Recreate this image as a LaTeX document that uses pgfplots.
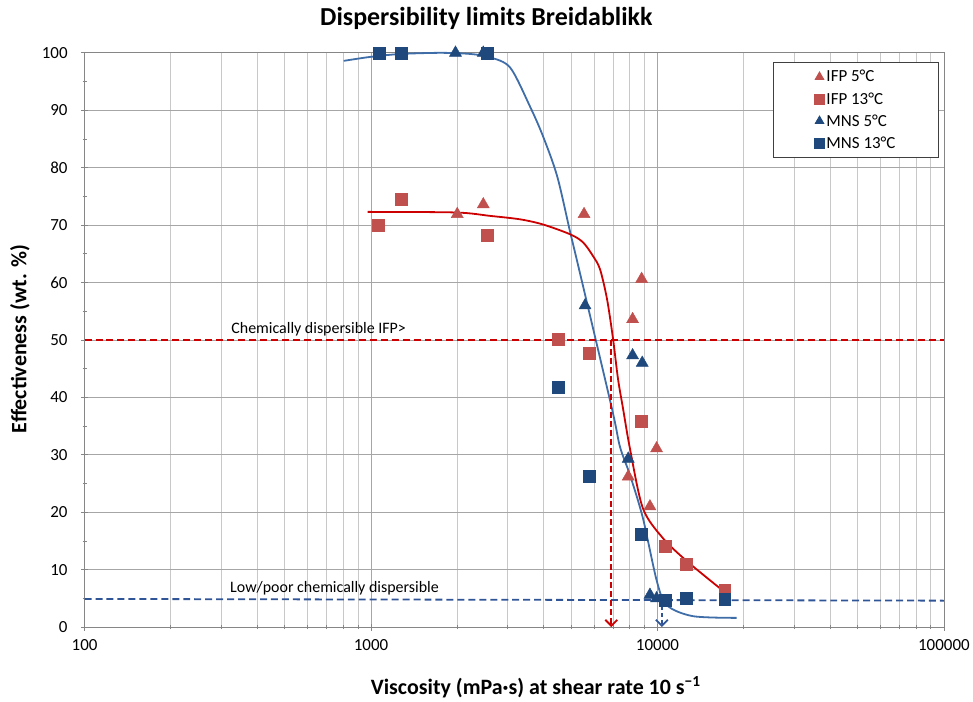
\documentclass[border=0pt]{standalone}
\usepackage{fontspec}
\setmainfont{Carlito}
\usepackage{pgfplots}
\pgfplotsset{compat=1.18}
\usetikzlibrary{arrows.meta}
\definecolor{ifp}{HTML}{C0504D}
\definecolor{mns}{HTML}{1F497D}
\definecolor{redline}{HTML}{CC0000}
\definecolor{blueline}{HTML}{3F6DA8}
\definecolor{bluedash}{HTML}{2F5597}
\definecolor{gridmaj}{HTML}{A6A6A6}
\definecolor{gridmin}{HTML}{C8C8C8}
\definecolor{axc}{HTML}{868686}
\begin{document}
\begin{tikzpicture}
\begin{axis}[
  scale only axis, width=862pt, height=576pt,
  xmode=log, xmin=100, xmax=100000, ymin=0, ymax=100,
  log ticks with fixed point,
  /pgf/number format/1000 sep={},
  /pgf/number format/assume math mode=true,
  ytick={0,10,...,100},
  minor y tick num=1,
  xmajorgrids, xminorgrids, ymajorgrids,
  major grid style={gridmaj, line width=0.8pt},
  minor grid style={gridmin, line width=0.8pt},
  axis line style={axc, line width=0.8pt},
  tick style={axc, line width=0.8pt},
  tick align=center,
  major tick length=7pt, minor tick length=4pt,
  xtick pos=bottom, ytick pos=left,
  ticklabel style={font=\fontsize{17}{20}\selectfont, text=black},
  xticklabel style={yshift=-5pt},
  yticklabel style={xshift=-10pt},
  title={Dispersibility limits Breidablikk},
  title style={font=\bfseries\fontsize{26}{30}\selectfont, at={(0.4675,1)}, yshift=14pt},
  xlabel={Viscosity (mPa·s) at shear rate 10 s\textsuperscript{−1}},
  ylabel={Effectiveness (wt. \%)},
  label style={font=\bfseries\fontsize{22}{26}\selectfont},
  xlabel style={at={(ticklabel cs:0.525)}, anchor=north, yshift=-20pt},
  ylabel style={at={(axis description cs:-0.0754,0.502)}, anchor=center, inner ysep=10pt},
  legend style={at={(0.994,0.984)}, anchor=north east, draw=black!75, fill=white,
    font=\fontsize{17}{20}\selectfont, inner xsep=41pt, inner ysep=6pt, row sep=5pt,
    line width=0.8pt},
  legend image code/.code={\draw[#1, mark size=5pt] plot coordinates {(0.3cm,0cm)};},
  legend cell align=left,
  clip=false,
]
% IFP 5 C
\addplot[only marks, mark=triangle*, mark size=7pt, color=ifp, fill=ifp] coordinates {
(2000,71.9) (2466,73.6) (5543,71.9) (8188,53.6) (8805,60.6) (7906,26.2) (9413,21.0) (9930,31.1)};
\addlegendentry{IFP 5°C}
% IFP 13 C
\addplot[only marks, mark=square*, mark size=6pt, color=ifp, fill=ifp] coordinates {
(1058,70.0) (1276,74.5) (2542,68.2) (4500,50.2) (5772,47.7) (8750,35.8) (10612,14.1) (12560,11.0) (17170,6.5)};
\addlegendentry{IFP 13°C}
% MNS 5 C
\addplot[only marks, mark=triangle*, mark size=7pt, color=mns, fill=mns] coordinates {
(1972,100) (2466,100) (5587,56.0) (8188,47.3) (8847,46.0) (7906,29.3) (9413,5.6) (9930,5.0)};
\addlegendentry{MNS 5°C}
% MNS 13 C
\addplot[only marks, mark=square*, mark size=6pt, color=mns, fill=mns] coordinates {
(1064,100) (1279,100) (2548,100) (4500,41.7) (5772,26.2) (8750,16.2) (10612,4.7) (12560,5.0) (17170,4.8)};
\addlegendentry{MNS 13°C}
% fitted curves
\addplot[forget plot, blueline, line width=1.8pt, smooth] coordinates {
(803,98.6) (997,99.3) (1268,99.8) (1748,100) (2224,99.8) (2610,99.2) (3064,97.4) (3594,90.6) (3991,85.4) (4466,78.5) (4956,68.8) (5325,62.3) (6939,38.0) (7398,31.4) (8015,26.5) (8893,19.0) (9950,8.0) (10790,3.8) (13290,1.9) (18890,1.6)};
\addplot[forget plot, redline, line width=1.8pt, smooth] coordinates {
(973,72.3) (1972,72.2) (2610,71.6) (3320,71.0) (3991,70.1) (4956,68.4) (5497,67.0) (5958,64.6) (6303,62.3) (6668,57.1) (6997,50.2) (7283,43.2) (7586,38.0) (8015,31.1) (8893,20.7) (10440,15.5) (12650,11.5) (16480,6.8)};
% limit lines
\addplot[forget plot, draw=redline, line width=2pt, dash pattern=on 7pt off 4pt] coordinates {(100,50.05) (100000,50.05)};
\addplot[forget plot, draw=bluedash, line width=1.8pt, dash pattern=on 7pt off 4pt] coordinates {(100,4.9) (100000,4.6)};
\addplot[forget plot, redline, line width=1.8pt, dash pattern=on 6pt off 3pt, -{Straight Barb[length=6pt,width=12pt]}] coordinates {(6900,50) (6900,0)};
\addplot[forget plot, bluedash, line width=1.8pt, dash pattern=on 4pt off 3pt, -{Straight Barb[length=6pt,width=12pt]}] coordinates {(10360,4.8) (10360,0)};
\node[anchor=west, inner sep=0pt, font=\fontsize{16}{19}\selectfont] at (axis cs:325,51.8) {Chemically dispersible IFP>};
\node[anchor=west, inner sep=0pt, font=\fontsize{16}{19}\selectfont] at (axis cs:322,6.8) {Low/poor chemically dispersible};
\path (rel axis cs:0.5,1) -- ++(0pt,53pt);
\end{axis}
\end{tikzpicture}
\end{document}
